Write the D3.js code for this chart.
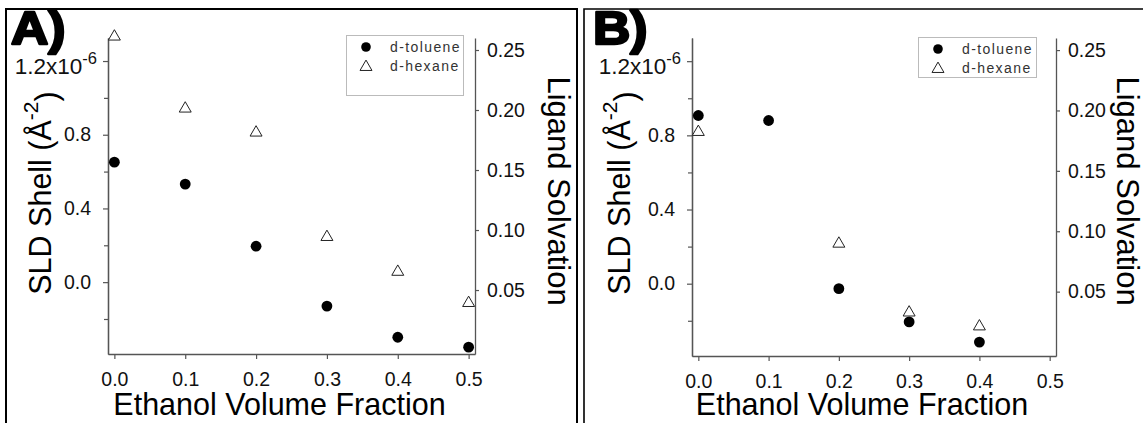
<!DOCTYPE html>
<html>
<head>
<meta charset="utf-8">
<script src="https://cdnjs.cloudflare.com/ajax/libs/d3/7.8.5/d3.min.js"></script>
<style>
  body { margin: 0; background: #fff; }
  svg { display: block; font-family: "Liberation Sans", Arial, sans-serif; }
</style>
</head>
<body>
<script>
// Width and height
var w = 1143;
var h = 423;

// data
var fractions = [0, 0.1, 0.2, 0.3, 0.4, 0.5];
var tolueneA = [0.651, 0.532, 0.195, -0.130, -0.299, -0.353];   // SLD shell (x1e-6 A^-2)
var hexaneA  = [0.262, 0.202, 0.182, 0.095, 0.066, 0.040];      // ligand solvation
var tolueneB = [0.907, 0.880, -0.027, -0.206, -0.315, null];
var hexaneB  = [0.183, null, 0.0905, 0.0335, 0.022, null];

var xTicks = [0, 0.1, 0.2, 0.3, 0.4, 0.5];
var leftTicks = [0, 0.4, 0.8, 1.2];
var leftMinor = [-0.2, 0.2, 0.6, 1.0];
var rightTicks = [0.05, 0.10, 0.15, 0.20, 0.25];
var seriesNames = ["d-toluene", "d-hexane"];

var panels = [
  { label: "A)", toluene: tolueneA, hexane: hexaneA, x0: 108, x1: 475, y1: 354,
    labelX: 11, leftTitleX: 51, rightTitleX: 548, legend: [346, 35, 117, 60] },
  { label: "B)", toluene: tolueneB, hexane: hexaneB, x0: 692, x1: 1056, y1: 356,
    labelX: 593, leftTitleX: 630, rightTitleX: 1117, legend: [918, 37, 118, 40] }
];
var yTop = 38;

var svg = d3.select("body")
    .append("svg")
    .attr("width", w)
    .attr("height", h);

// frames around the two panels
var frame = svg.append("g").attr("stroke", "#000").attr("stroke-width", 2).attr("fill", "none");
frame.append("path").attr("d", "M6,423 V9 H577 V423");
frame.append("path").attr("d", "M584,423 V9 H1143").attr("stroke-width", 1.6);

var triangle = d3.symbol().type(d3.symbolTriangle).size(62);

panels.forEach(function(p) {
  var xScale = d3.scaleLinear().domain([-0.009, 0.509]).range([p.x0, p.x1]);
  var yLeft = d3.scaleLinear().domain([-0.39, 1.325]).range([p.y1, yTop]);
  var yRight = d3.scaleLinear().domain([-0.0033, 0.26]).range([p.y1, yTop]);

  var g = svg.append("g");

  // panel letter
  g.append("text")
    .attr("transform", "translate(" + p.labelX + ",44) scale(1.1,1)")
    .style("font-size", "47px")
    .attr("font-weight", "bold")
    .attr("stroke", "#000")
    .attr("stroke-width", 2.4)
    .attr("stroke-linejoin", "round")
    .text(p.label);

  // bottom axis
  g.append("g")
    .attr("transform", "translate(0," + p.y1 + ")")
    .call(d3.axisBottom(xScale).tickValues(xTicks).tickFormat(d3.format(".1f"))
      .tickSize(5).tickPadding(13).tickSizeOuter(0));

  // left axis, minor ticks first
  g.append("g")
    .attr("transform", "translate(" + p.x0 + ",0)")
    .call(d3.axisLeft(yLeft).tickValues(leftMinor).tickFormat("").tickSize(4).tickSizeOuter(0));
  var leftAxis = g.append("g")
    .attr("transform", "translate(" + p.x0 + ",0)")
    .call(d3.axisLeft(yLeft).tickValues(leftTicks).tickFormat(d3.format(".1f"))
      .tickSize(5).tickPadding(12).tickSizeOuter(0));

  // right axis
  g.append("g")
    .attr("transform", "translate(" + p.x1 + ",0)")
    .call(d3.axisRight(yRight).tickValues(rightTicks).tickFormat(d3.format(".2f"))
      .tickSize(4).tickPadding(8).tickSizeOuter(0));

  g.selectAll(".domain").attr("stroke", "#555").attr("stroke-width", 1.3);
  g.selectAll(".tick line").attr("stroke", "#555").attr("stroke-width", 1.2);
  g.selectAll(".tick text")
    .attr("fill", "#111")
    .style("font-size", "19.5px")
    .style("font-family", "'Liberation Sans', Arial, sans-serif");

  // top label carries the exponent
  leftAxis.selectAll(".tick text")
    .filter(function(d) { return d === 1.2; })
    .text("1.2x10")
    .attr("x", -11)
    .attr("y", 5)
    .style("font-size", "22.5px")
    .append("tspan")
    .attr("dy", "-0.6em")
    .style("font-size", "16.5px")
    .text("-6");

  // axis titles
  g.append("text")
    .attr("x", (p.x0 + p.x1) / 2 - 12)
    .attr("y", 415)
    .attr("text-anchor", "middle")
    .style("font-size", "30.5px")
    .attr("fill", "#000")
    .text("Ethanol Volume Fraction");

  var lt = g.append("text")
    .attr("transform", "translate(" + p.leftTitleX + ",193) rotate(-90)")
    .attr("text-anchor", "middle")
    .style("font-size", "30.5px")
    .attr("fill", "#000")
    .text("SLD Shell (\u00C5");
  lt.append("tspan").attr("dy", "-0.6em").style("font-size", "21px").text("-2");
  lt.append("tspan").attr("dy", "0.6em").text(")");

  g.append("text")
    .attr("transform", "translate(" + p.rightTitleX + ",191) rotate(90)")
    .attr("text-anchor", "middle")
    .style("font-size", "31px")
    .attr("fill", "#000")
    .text("Ligand Solvation");

  // data points
  var idx = d3.range(fractions.length);
  g.selectAll("circle.tol")
    .data(idx.filter(function(i) { return p.toluene[i] != null; }))
    .enter()
    .append("circle")
    .attr("class", "tol")
    .attr("cx", function(i) { return xScale(fractions[i]); })
    .attr("cy", function(i) { return yLeft(p.toluene[i]); })
    .attr("r", 5.4)
    .attr("fill", "#000");

  g.selectAll("path.hex")
    .data(idx.filter(function(i) { return p.hexane[i] != null; }))
    .enter()
    .append("path")
    .attr("class", "hex")
    .attr("d", triangle)
    .attr("transform", function(i) {
      return "translate(" + xScale(fractions[i]) + "," + (yRight(p.hexane[i]) + 1) + ")";
    })
    .attr("fill", "#fff")
    .attr("stroke", "#222")
    .attr("stroke-width", 1);

  // legend
  var L = p.legend;
  var leg = g.append("g").attr("transform", "translate(" + L[0] + "," + L[1] + ")");
  leg.append("rect")
    .attr("x", 0.5).attr("y", 0.5)
    .attr("width", L[2]).attr("height", L[3])
    .attr("fill", "#fff")
    .attr("stroke", "#bbb");
  leg.append("circle").attr("cx", 20).attr("cy", 12).attr("r", 4.8).attr("fill", "#000");
  leg.append("path").attr("d", triangle)
    .attr("transform", "translate(20,32)")
    .attr("fill", "#fff").attr("stroke", "#222");
  leg.selectAll("text.leg")
    .data(seriesNames)
    .enter()
    .append("text")
    .attr("class", "leg")
    .attr("x", 44)
    .attr("y", function(d, i) { return 17 + i * 19; })
    .style("font-size", "14px")
    .attr("letter-spacing", "1.4px")
    .attr("fill", "#333")
    .text(function(d) { return d; });
});
</script>
</body>
</html>
